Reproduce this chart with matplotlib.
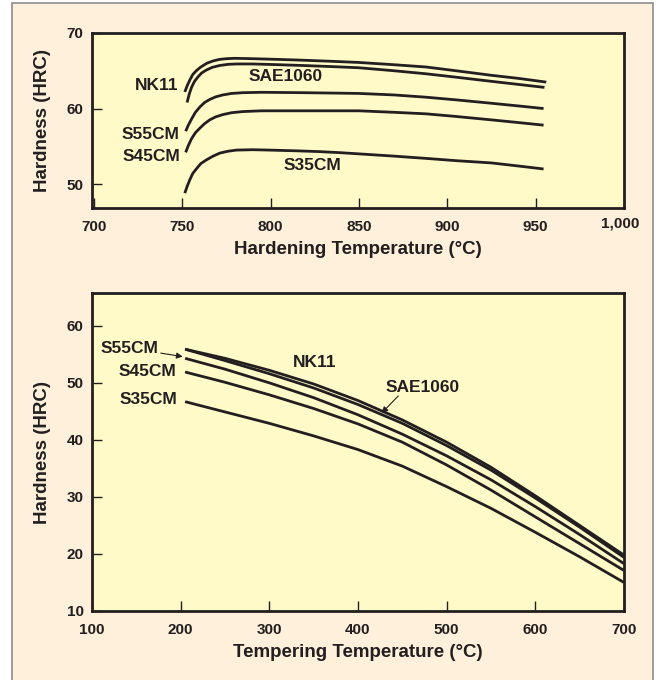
import matplotlib.pyplot as plt
from matplotlib.patches import Rectangle
from matplotlib.transforms import ScaledTranslation

# --- top chart: hardness vs hardening temperature ---
hard_nk11_t = [751.5, 753, 754.4, 756, 758, 760, 761.9, 764, 767.5, 771, 775, 780,
               790, 805, 818, 835, 850, 870, 888, 905, 925, 940, 956]
hard_nk11 = [62.2, 63.1, 63.8, 64.5, 65.0, 65.4, 65.7, 66.0, 66.3, 66.5, 66.6, 66.65,
             66.6, 66.5, 66.4, 66.25, 66.1, 65.8, 65.5, 65.0, 64.4, 64.0, 63.5]
hard_sae_t = [752.8, 754, 755.3, 757, 759, 761, 763.7, 767, 771.3, 776, 780.7,
              790, 805, 818, 835, 850, 870, 888, 905, 925, 940, 955]
hard_sae = [60.8, 61.9, 62.8, 63.6, 64.2, 64.7, 65.1, 65.45, 65.7, 65.85, 65.9,
            65.9, 65.8, 65.7, 65.55, 65.4, 65.0, 64.6, 64.15, 63.6, 63.2, 62.8]
hard_s55_t = [752, 753.5, 755.3, 757.5, 760, 762.7, 765.6, 769, 773, 778, 784.4,
              795, 818, 835, 850, 870, 888, 905, 925, 940, 954.5]
hard_s55 = [57.0, 57.8, 58.6, 59.5, 60.2, 60.8, 61.2, 61.55, 61.8, 62.0, 62.1,
            62.15, 62.1, 62.05, 62.0, 61.8, 61.5, 61.15, 60.7, 60.35, 60.0]
hard_s45_t = [752, 753.5, 755.3, 757.5, 760, 762.7, 765.6, 769, 773, 778, 784.4,
              795, 818, 835, 850, 870, 888, 905, 925, 940, 954.5]
hard_s45 = [54.2, 55.1, 56.0, 56.8, 57.4, 58.0, 58.5, 58.9, 59.2, 59.45, 59.6,
            59.7, 59.7, 59.7, 59.7, 59.5, 59.3, 58.95, 58.5, 58.15, 57.8]
hard_s35_t = [751.5, 753, 754.4, 756, 758, 760.5, 763.7, 767.5, 771.3, 776, 780.7,
              790, 799.4, 815, 827.6, 840, 850, 870, 888, 905, 925, 940, 954.5]
hard_s35 = [48.8, 49.8, 50.6, 51.4, 52.0, 52.7, 53.2, 53.7, 54.1, 54.35, 54.5,
            54.55, 54.5, 54.4, 54.3, 54.15, 54.0, 53.7, 53.4, 53.1, 52.8, 52.4, 52.0]

hard_xticks = [700, 750, 800, 850, 900, 950, 1000]
hard_xlabels = ['700', '750', '800', '850', '900', '950', '1,000']
hard_yticks = [50, 60, 70]

# --- bottom chart: hardness vs tempering temperature ---
temp_t = [205, 250, 300, 350, 400, 450, 500, 550, 600, 650, 700]
temp_nk11 = [55.9, 54.3, 52.2, 49.8, 46.9, 43.5, 39.6, 35.2, 30.2, 25.0, 19.8]
temp_sae = [55.9, 53.9, 51.6, 49.1, 46.2, 42.9, 39.0, 34.7, 29.8, 24.7, 19.4]
temp_s55 = [54.3, 52.4, 50.0, 47.4, 44.4, 41.0, 37.2, 33.0, 28.3, 23.4, 18.3]
temp_s45 = [51.9, 50.1, 47.9, 45.5, 42.8, 39.6, 35.6, 31.2, 26.5, 21.8, 17.1]
temp_s35 = [46.7, 44.9, 42.9, 40.7, 38.3, 35.4, 31.8, 28.0, 23.8, 19.5, 15.0]

temp_xticks = [100, 200, 300, 400, 500, 600, 700]
temp_yticks = [10, 20, 30, 40, 50, 60]

ink = '#231f20'
cream = '#fef0da'
panel = '#fffac8'
font = ['Liberation Sans', 'DejaVu Sans']

plt.rcParams['font.family'] = font
plt.rcParams['font.weight'] = 'bold'

fig = plt.figure(figsize=(6.58, 6.80), dpi=100)
fig.patch.set_facecolor('white')
fig.patches.append(Rectangle((12 / 658, -0.05), 641 / 658, 1.05 - 3 / 680,
                             transform=fig.transFigure, facecolor=cream,
                             edgecolor='#8c8c8c', lw=1.2, zorder=-1))


def style_axes(ax):
    ax.set_facecolor(panel)
    for s in ax.spines.values():
        s.set_linewidth(2)
        s.set_color(ink)
    ax.tick_params(direction='in', length=7, width=1, color=ink,
                   labelsize=11, labelcolor=ink)
    for lab in ax.get_xticklabels() + ax.get_yticklabels():
        lab.set_fontweight('bold')


line_kw = dict(color=ink, lw=2, solid_capstyle='butt', solid_joinstyle='round')
txt_kw = dict(fontsize=12.5, fontweight='bold', color=ink)
lab_kw = dict(fontsize=13.5, fontweight='bold', color=ink)

# top chart
ax1 = fig.add_axes([92 / 658, 1 - 207.5 / 680, 532 / 658, 174.5 / 680])
ax1.plot(hard_nk11_t, hard_nk11, **line_kw)
ax1.plot(hard_sae_t, hard_sae, **line_kw)
ax1.plot(hard_s55_t, hard_s55, **line_kw)
ax1.plot(hard_s45_t, hard_s45, **line_kw)
ax1.plot(hard_s35_t, hard_s35, **line_kw)
ax1.set_xlim(699, 1000)
ax1.set_ylim(46.9, 70)
ax1.set_xticks(hard_xticks)
ax1.set_xticklabels(hard_xlabels)
ax1.set_yticks(hard_yticks)
style_axes(ax1)
ax1.tick_params(axis='x', pad=9)
ax1.tick_params(axis='y', pad=6)
ax1.set_xlabel('Hardening Temperature (°C)', labelpad=5, **lab_kw)
ax1.set_ylabel('Hardness (HRC)', labelpad=11, **lab_kw)
# the "1,000" label sits a little higher and further left in the original
last = ax1.get_xticklabels()[-1]
last.set_transform(last.get_transform()
                   + ScaledTranslation(-4 / 100, 4 / 100, fig.dpi_scale_trans))

ax1.text(747.7, 63.1, 'NK11', ha='right', va='center', **txt_kw)
ax1.text(808.8, 64.2, 'SAE1060', ha='center', va='center', **txt_kw)
ax1.text(748.7, 56.5, 'S55CM', ha='right', va='center', **txt_kw)
ax1.text(748.7, 53.7, 'S45CM', ha='right', va='center', **txt_kw)
ax1.text(823.9, 52.5, 'S35CM', ha='center', va='center', **txt_kw)

# bottom chart
ax2 = fig.add_axes([92 / 658, 1 - 611 / 680, 532 / 658, 317.7 / 680])
ax2.plot(temp_t, temp_nk11, **line_kw)
ax2.plot(temp_t, temp_sae, **line_kw)
ax2.plot(temp_t, temp_s55, **line_kw)
ax2.plot(temp_t, temp_s45, **line_kw)
ax2.plot(temp_t, temp_s35, **line_kw)
ax2.set_xlim(100, 700)
ax2.set_ylim(10, 65.7)
ax2.set_xticks(temp_xticks)
ax2.set_yticks(temp_yticks)
style_axes(ax2)
ax2.tick_params(axis='x', pad=9)
ax2.tick_params(axis='y', pad=6)
ax2.set_xlabel('Tempering Temperature (°C)', labelpad=5, **lab_kw)
ax2.set_ylabel('Hardness (HRC)', labelpad=11, **lab_kw)

arrow_kw = dict(arrowstyle='-|>', color=ink, lw=0.8, mutation_scale=9,
                shrinkA=0, shrinkB=0)
ax2.annotate('S55CM', xy=(202.3, 54.6), xytext=(174.4, 56.1),
             ha='right', va='center', arrowprops=arrow_kw, **txt_kw)
ax2.text(194.7, 52.0, 'S45CM', ha='right', va='center', **txt_kw)
ax2.text(196.2, 47.0, 'S35CM', ha='right', va='center', **txt_kw)
ax2.text(351.5, 53.6, 'NK11', ha='center', va='center', **txt_kw)
ax2.text(472.5, 49.2, 'SAE1060', ha='center', va='center', **txt_kw)
ax2.annotate('', xy=(426.7, 44.7), xytext=(445.4, 47.7), arrowprops=arrow_kw)

fig.savefig('out.png', dpi=100, facecolor=fig.get_facecolor())
